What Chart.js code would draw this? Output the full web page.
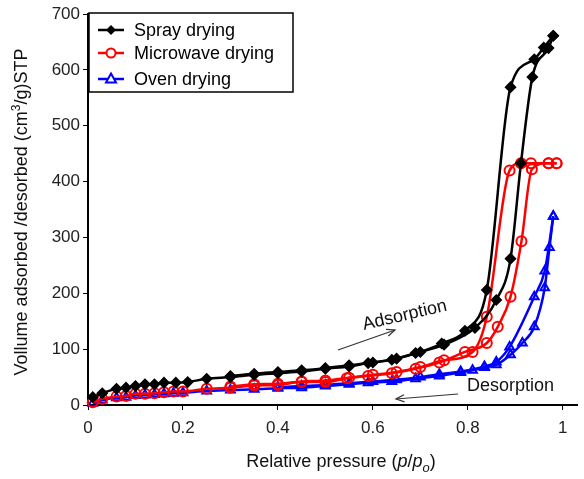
<!DOCTYPE html>
<html lang="en">
<head>
    <meta charset="UTF-8">
    <title>isotherms</title>
    <script src="https://cdn.jsdelivr.net/npm/chart.js"></script>
    <style>
        body { margin: 0; background: #fff; }
    </style>
</head>
<body>
    <canvas id="myChart" width="584" height="479"></canvas>
    <script>
        // relative pressure ticks
        const xTicks = [0, 0.2, 0.4, 0.6, 0.8, 1];
        const yTicks = [0, 100, 200, 300, 400, 500, 600, 700];
        const labels = ['Spray drying', 'Microwave drying', 'Oven drying'];

        // spray drying
        const sprayAdsX = [0.01, 0.03, 0.06, 0.08, 0.10, 0.12, 0.14, 0.16, 0.185, 0.21, 0.25, 0.30, 0.35, 0.40, 0.45, 0.50, 0.55, 0.59, 0.64, 0.69, 0.75, 0.815, 0.86, 0.89, 0.912, 0.936, 0.97, 0.98];
        const sprayAdsY = [14, 21, 29, 31, 34, 37, 37, 40, 40, 41, 47, 50, 54, 57, 60, 65, 69, 75, 81, 93, 108, 138, 188, 262, 433, 587, 639, 661];
        const sprayDesX = [0.30, 0.35, 0.40, 0.45, 0.50, 0.55, 0.60, 0.65, 0.70, 0.745, 0.794, 0.84, 0.89, 0.94, 0.96, 0.98];
        const sprayDesY = [52, 56, 59, 62, 66, 71, 76, 83, 95, 110, 133, 206, 569, 619, 640, 661];

        // microwave drying
        const microAdsX = [0.01, 0.03, 0.06, 0.08, 0.10, 0.12, 0.14, 0.16, 0.18, 0.20, 0.25, 0.30, 0.35, 0.40, 0.45, 0.50, 0.545, 0.59, 0.64, 0.69, 0.74, 0.794, 0.84, 0.863, 0.89, 0.913, 0.935, 0.97, 0.987];
        const microAdsY = [5, 11, 15, 16, 20, 20, 21, 23, 24, 24, 29, 31, 35, 36, 41, 41, 48, 52, 57, 65, 76, 95, 111, 140, 194, 293, 422, 433, 433];
        const microDesX = [0.30, 0.35, 0.40, 0.45, 0.50, 0.55, 0.60, 0.65, 0.70, 0.75, 0.81, 0.84, 0.888, 0.912, 0.933, 0.97, 0.987];
        const microDesY = [33, 37, 38, 42, 44, 49, 54, 59, 68, 80, 95, 158, 420, 433, 433, 433, 433];

        // oven drying
        const ovenAdsX = [0.01, 0.03, 0.06, 0.08, 0.10, 0.12, 0.14, 0.16, 0.18, 0.20, 0.25, 0.30, 0.35, 0.40, 0.45, 0.50, 0.55, 0.59, 0.64, 0.69, 0.74, 0.785, 0.81, 0.835, 0.86, 0.89, 0.915, 0.94, 0.962, 0.972, 0.98];
        const ovenAdsY = [3, 9, 13, 14, 17, 18, 19, 20, 21, 22, 25, 27, 28, 30, 31, 34, 37, 40, 42, 47, 52, 58, 62, 67, 72, 90, 111, 140, 210, 282, 338];
        const ovenDesX = [0.40, 0.45, 0.50, 0.55, 0.60, 0.65, 0.70, 0.74, 0.785, 0.835, 0.86, 0.888, 0.94, 0.962, 0.98];
        const ovenDesY = [32, 34, 36, 39, 42, 45, 50, 55, 60, 69, 77, 104, 194, 240, 338];

        const colors = ['#000000', '#ff0000', '#0000ff'];
        const styles = ['rectRot', 'circle', 'triangle'];

        function pts(xs, ys) {
            return xs.map((x, i) => ({ x: x, y: ys[i] }));
        }

        function makeSet(i, xs, ys, label) {
            return {
                label: label,
                data: pts(xs, ys),
                showLine: true,
                borderColor: colors[i],
                borderWidth: 2.5,
                cubicInterpolationMode: 'monotone',
                pointStyle: styles[i],
                pointRadius: i === 0 ? 5 : 5,
                pointBorderWidth: i === 0 ? 1.5 : 2,
                pointBorderColor: colors[i],
                pointBackgroundColor: i === 0 ? colors[i] : 'rgba(255,255,255,0)',
                clip: false
            };
        }

        const FONT = 'Arial, "Liberation Sans", sans-serif';

        function arrow(ctx, x1, y1, x2, y2) {
            ctx.beginPath();
            ctx.moveTo(x1, y1);
            ctx.lineTo(x2, y2);
            ctx.stroke();
            const a = Math.atan2(y2 - y1, x2 - x1);
            ctx.beginPath();
            ctx.moveTo(x2 - 9 * Math.cos(a - 0.4), y2 - 9 * Math.sin(a - 0.4));
            ctx.lineTo(x2, y2);
            ctx.lineTo(x2 - 9 * Math.cos(a + 0.4), y2 - 9 * Math.sin(a + 0.4));
            ctx.stroke();
        }

        function marker(ctx, i, x, y) {
            ctx.strokeStyle = colors[i];
            ctx.fillStyle = colors[i];
            ctx.lineWidth = 2;
            ctx.beginPath();
            if (i === 0) {
                ctx.moveTo(x, y - 5); ctx.lineTo(x + 5, y); ctx.lineTo(x, y + 5); ctx.lineTo(x - 5, y);
                ctx.closePath(); ctx.fill();
            } else if (i === 1) {
                ctx.arc(x, y, 4.5, 0, Math.PI * 2);
                ctx.fillStyle = '#fff'; ctx.fill(); ctx.stroke();
            } else {
                ctx.moveTo(x, y - 5.5); ctx.lineTo(x + 5, y + 3.5); ctx.lineTo(x - 5, y + 3.5);
                ctx.closePath(); ctx.fillStyle = '#fff'; ctx.fill(); ctx.stroke();
            }
        }

        const extras = {
            id: 'extras',
            afterDraw(chart) {
                const ctx = chart.ctx;
                ctx.save();
                ctx.fillStyle = '#111';
                ctx.textBaseline = 'alphabetic';

                // x title
                const parts = [
                    ['Relative pressure (', '18px ' + FONT, 0],
                    ['p', 'italic 18px ' + FONT, 0],
                    ['/', '18px ' + FONT, 0],
                    ['p', 'italic 18px ' + FONT, 0],
                    ['o', 'italic 13px ' + FONT, 5],
                    [')', '18px ' + FONT, 0]
                ];
                let w = 0;
                parts.forEach(p => { ctx.font = p[1]; w += ctx.measureText(p[0]).width; });
                let x = 341 - w / 2;
                parts.forEach(p => {
                    ctx.font = p[1];
                    ctx.fillText(p[0], x, 467 + p[2]);
                    x += ctx.measureText(p[0]).width;
                });

                // y title
                ctx.save();
                ctx.translate(27, 212);
                ctx.rotate(-Math.PI / 2);
                const yp = [
                    ['Vollume adsorbed /desorbed (cm', '18px ' + FONT, 0],
                    ['3', '12px ' + FONT, -7],
                    ['/g)STP', '18px ' + FONT, 0]
                ];
                w = 0;
                yp.forEach(p => { ctx.font = p[1]; w += ctx.measureText(p[0]).width; });
                x = -w / 2;
                yp.forEach(p => {
                    ctx.font = p[1];
                    ctx.fillText(p[0], x, p[2]);
                    x += ctx.measureText(p[0]).width;
                });
                ctx.restore();

                // legend
                ctx.strokeStyle = '#000';
                ctx.lineWidth = 1.5;
                ctx.strokeRect(89, 13, 204, 79);
                const rows = [30, 53, 79];
                labels.forEach((t, i) => {
                    ctx.strokeStyle = colors[i];
                    ctx.lineWidth = 2.5;
                    ctx.beginPath();
                    ctx.moveTo(98, rows[i]);
                    ctx.lineTo(124, rows[i]);
                    ctx.stroke();
                    marker(ctx, i, 111, rows[i]);
                    ctx.fillStyle = '#000';
                    ctx.font = '18px ' + FONT;
                    ctx.textBaseline = 'middle';
                    ctx.fillText(t, 134, rows[i] + 1);
                });

                // annotations
                ctx.textBaseline = 'alphabetic';
                ctx.fillStyle = '#111';
                ctx.font = '18px ' + FONT;
                ctx.save();
                ctx.translate(364, 330);
                ctx.rotate(-0.23);
                ctx.fillText('Adsorption', 0, 0);
                ctx.restore();
                ctx.fillText('Desorption', 467, 391);

                ctx.strokeStyle = '#333';
                ctx.lineWidth = 1.2;
                arrow(ctx, 338, 350, 395, 330);
                arrow(ctx, 458, 394, 396, 399);
                ctx.restore();
            }
        };

        const ctx = document.getElementById('myChart').getContext('2d');
        const myChart = new Chart(ctx, {
            type: 'scatter',
            data: {
                datasets: [
                    makeSet(0, sprayAdsX, sprayAdsY, labels[0]),
                    makeSet(0, sprayDesX, sprayDesY, labels[0] + ' des'),
                    makeSet(1, microAdsX, microAdsY, labels[1]),
                    makeSet(1, microDesX, microDesY, labels[1] + ' des'),
                    makeSet(2, ovenAdsX, ovenAdsY, labels[2]),
                    makeSet(2, ovenDesX, ovenDesY, labels[2] + ' des')
                ]
            },
            options: {
                responsive: false,
                animation: false,
                devicePixelRatio: 1,
                layout: { padding: { top: 14, left: 0, right: 0, bottom: 0 } },
                plugins: {
                    legend: { display: false },
                    tooltip: { enabled: false }
                },
                scales: {
                    x: {
                        type: 'linear',
                        min: 0,
                        max: 1.03,
                        afterBuildTicks: s => { s.ticks = xTicks.map(v => ({ value: v })); },
                        afterFit: s => { s.height = 74; },
                        ticks: {
                            padding: 8,
                            color: '#222',
                            font: { size: 17, family: FONT },
                            callback: v => String(Number(v.toFixed(1)))
                        },
                        grid: { drawOnChartArea: false, drawTicks: true, tickLength: 5, color: '#000' },
                        border: { color: '#000', width: 2 }
                    },
                    y: {
                        min: 0,
                        max: 700,
                        afterBuildTicks: s => { s.ticks = yTicks.map(v => ({ value: v })); },
                        afterFit: s => { s.width = 88; },
                        ticks: {
                            padding: 3,
                            color: '#222',
                            font: { size: 17, family: FONT }
                        },
                        grid: { drawOnChartArea: false, drawTicks: true, tickLength: 5, color: '#000' },
                        border: { color: '#000', width: 2 }
                    }
                }
            },
            plugins: [extras]
        });
    </script>
</body>
</html>
